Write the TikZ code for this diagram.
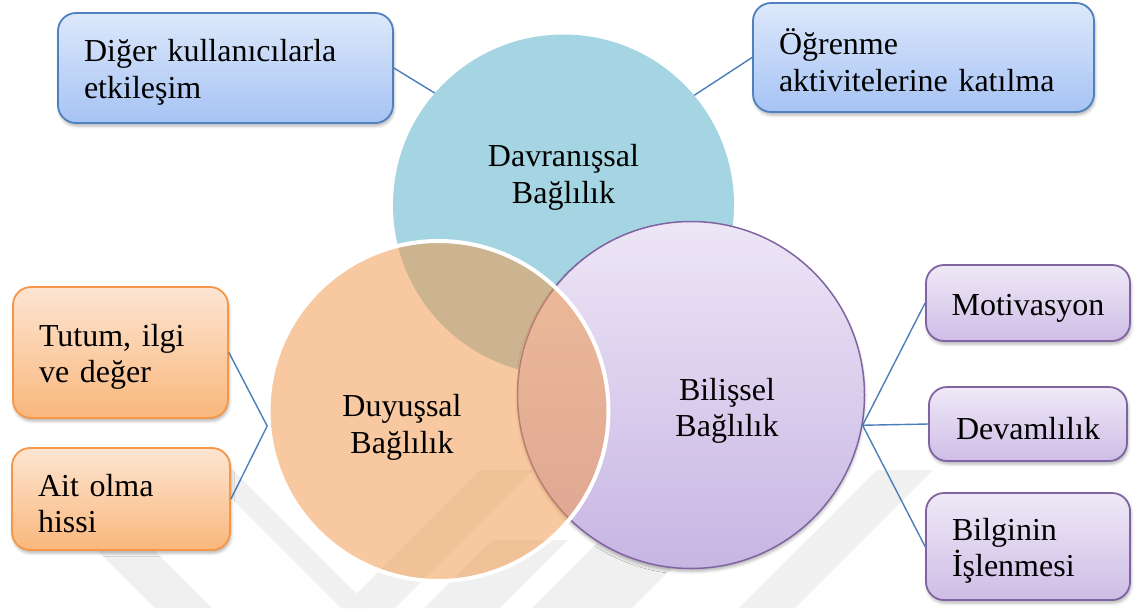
\documentclass[tikz,border=0pt]{standalone}
\usepackage{fontspec}
\setmainfont{Liberation Serif}
\usetikzlibrary{shadows.blur}

% palette
\definecolor{wm}{RGB}{240,240,240}
\definecolor{tealC}{RGB}{165,213,226}
\definecolor{orgC}{RGB}{242,151,72}
\definecolor{purCTop}{RGB}{237,230,246}
\definecolor{purCBot}{RGB}{199,181,227}
\definecolor{purLine}{RGB}{128,100,162}
\definecolor{blueTop}{RGB}{221,232,251}
\definecolor{blueBot}{RGB}{166,195,244}
\definecolor{blueLine}{RGB}{79,129,189}
\definecolor{orgTop}{RGB}{253,229,210}
\definecolor{orgBot}{RGB}{249,183,124}
\definecolor{orgLine}{RGB}{247,150,70}
\definecolor{purTop}{RGB}{239,233,247}
\definecolor{purBot}{RGB}{206,189,230}
\definecolor{connC}{RGB}{74,126,187}

\begin{document}
\begin{tikzpicture}[x=1pt,y=-1pt,
  txt/.style={font=\fontsize{32}{36.5}\selectfont, text=black},
  lbl/.style={txt, align=center, inner sep=0pt},
  boxbase/.style={txt, rounded corners=18pt, line width=1.8pt, inner ysep=0pt,
    execute at begin node={\rule{0pt}{31pt}},
    blur shadow={shadow xshift=1pt, shadow yshift=-3pt, shadow blur radius=3pt, shadow opacity=30}},
  leftbox/.style={boxbase, align=left, inner xsep=26pt},
  midbox/.style={boxbase, align=center, inner xsep=0pt},
  bluebox/.style={draw=blueLine, top color=blueTop, bottom color=blueBot},
  orgbox/.style={draw=orgLine, top color=orgTop, bottom color=orgBot},
  purbox/.style={draw=purLine, top color=purTop, bottom color=purBot},
  conn/.style={draw=connC, line width=1.4pt},
  band/.style={fill=wm}
]
\useasboundingbox (0,0) rectangle (1137,608);

% faint background stripes
\fill[band] (95,548) -- (152,548) -- (212,608) -- (155,608) -- cycle;
\fill[band] (195,462) -- (225,462) -- (371,608) -- (341,608) -- cycle;
\fill[band] (480,470) -- (533,470) -- (395,608) -- (342,608) -- cycle;
\fill[band] (492,540) -- (568,540) -- (500,608) -- (424,608) -- cycle;
\fill[band] (600,540) -- (700,540) -- (632,608) -- (532,608) -- cycle;
\fill[band] (877,470) -- (933,470) -- (795,608) -- (739,608) -- cycle;

% the three circles
\node[circle, minimum size=341pt, inner sep=0pt, fill=tealC] (dav) at (563.5,205) {};
\node[circle, minimum size=347pt, inner sep=0pt, top color=purCTop, bottom color=purCBot,
  draw=purLine, line width=1.5pt,
  blur shadow={shadow xshift=0pt, shadow yshift=-3pt, shadow blur radius=3pt, shadow opacity=30}]
  (bil) at (691,395) {};
\node[circle, minimum size=340pt, inner sep=0pt, fill=orgC, fill opacity=0.52,
  draw=white, line width=4pt] (duy) at (438.5,411) {};

% circle titles
\node[lbl] (tDav) at (563.5,177.5) {Davranışsal\\Bağlılık};
\node[lbl] (tDuy) at (402,427.5) {Duyuşsal\\Bağlılık};
\node[lbl] (tBil) at (727,411) {Bilişsel\\Bağlılık};

% boxes
\node[leftbox, bluebox, minimum width=335pt, minimum height=110pt, text width=283pt]
  (box1) at (225.5,68) {Diğer kullanıcılarla\\etkileşim};
\node[leftbox, bluebox, minimum width=341pt, minimum height=109pt, text width=289pt]
  (box2) at (923.5,57.5) {Öğrenme\\aktivitelerine katılma};
\node[leftbox, orgbox, minimum width=215pt, minimum height=131pt, text width=163pt]
  (box3) at (120.5,352.5) {Tutum, ilgi\\ve değer};
\node[leftbox, orgbox, minimum width=218pt, minimum height=102pt, text width=166pt]
  (box4) at (121,499) {Ait olma\\hissi};
\node[midbox, purbox, minimum width=204pt, minimum height=76pt]
  (box5) at (1028,303) {Motivasyon};
\node[midbox, purbox, minimum width=198pt, minimum height=74pt]
  (box6) at (1028,424) {Devamlılık};
\node[leftbox, purbox, minimum width=204pt, minimum height=107pt, text width=152pt]
  (box7) at (1028,546.5) {Bilginin\\İşlenmesi};

% connectors
\draw[conn] (box1.east) -- (dav.139);
\draw[conn] (box2.west) -- (dav.40);
\draw[conn] (box3.east) -- (duy.185) -- (box4.east);
\draw[conn] (box5.west) -- (bil.-10) -- (box7.west);
\draw[conn] (bil.-10) -- (box6.west);
\end{tikzpicture}
\end{document}
